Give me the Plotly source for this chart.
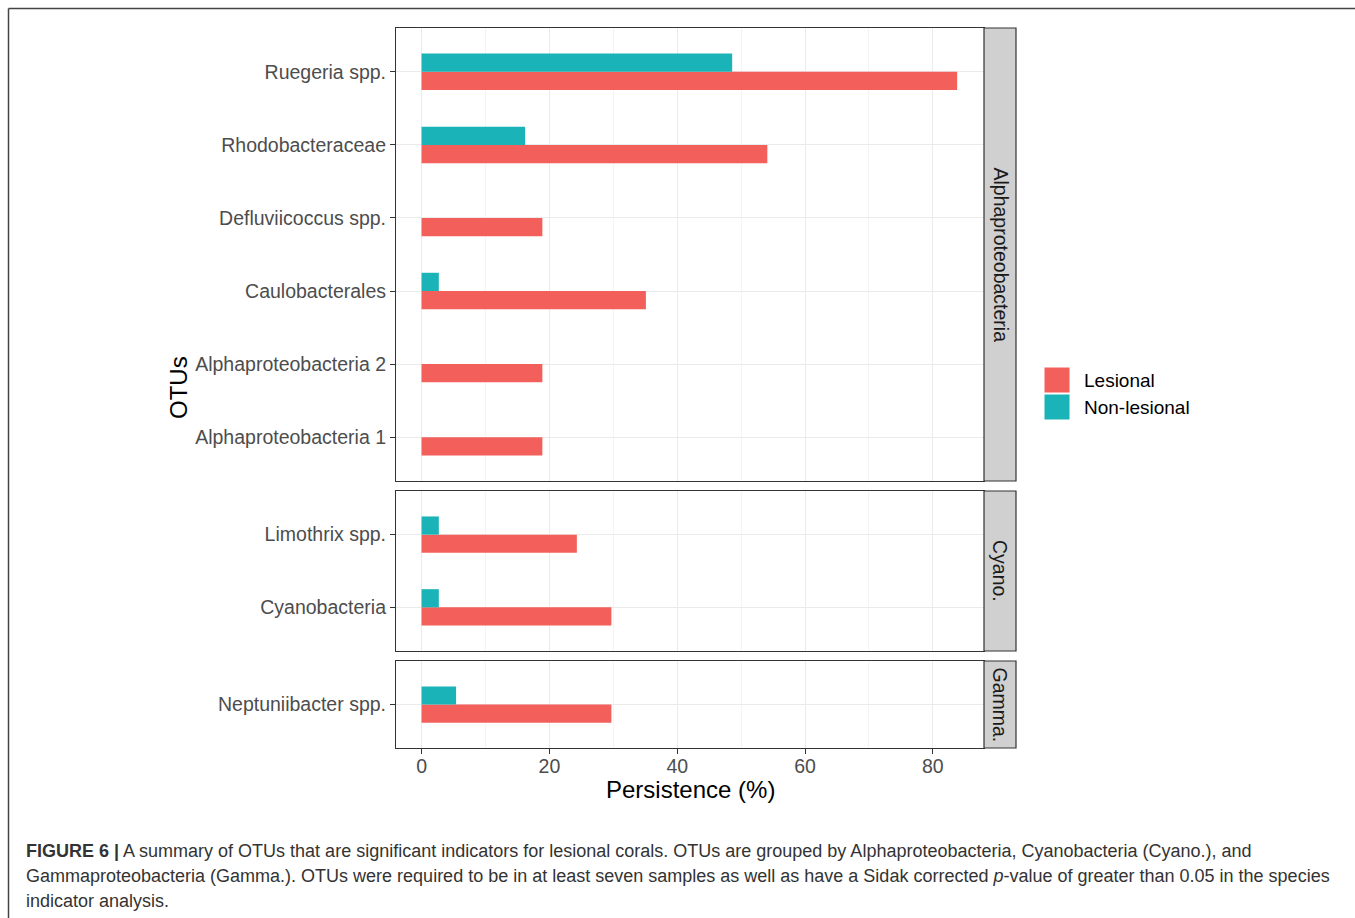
import plotly.graph_objects as go

W, H = 1355, 918

# ---- data -------------------------------------------------------------
alpha_otus = ["Alphaproteobacteria 1", "Alphaproteobacteria 2", "Caulobacterales",
              "Defluviicoccus spp.", "Rhodobacteraceae", "Ruegeria spp."]
alpha_lesional = [18.9, 18.9, 35.1, 18.9, 54.1, 83.8]
alpha_nonlesional = [None, None, 2.7, None, 16.2, 48.6]

cyano_otus = ["Cyanobacteria", "Limothrix spp."]
cyano_lesional = [29.7, 24.3]
cyano_nonlesional = [2.7, 2.7]

gamma_otus = ["Neptuniibacter spp."]
gamma_lesional = [29.7]
gamma_nonlesional = [5.4]

groups = ["Alphaproteobacteria", "Cyano.", "Gamma."]
x_ticks = [0, 20, 40, 60, 80]

# ---- styling ----------------------------------------------------------
RED = "#F35F5A"
TEAL = "#19B3B8"
FONT = "Liberation Sans, Arial, sans-serif"
BORDER = "#333333"
GRID = "#EBEBEB"
GRID_MINOR = "#F4F4F4"
TICK_SIZE = 19.5

# panel pixel boxes (top, bottom) and shared horizontal extent
PX_L, PX_R = 396, 984
panels_px = [(28, 481), (491, 651), (661, 748)]


def ydom(top, bottom):
    return [1 - bottom / H, 1 - top / H]


fig = go.Figure()

panel_data = [
    (alpha_otus, alpha_lesional, alpha_nonlesional),
    (cyano_otus, cyano_lesional, cyano_nonlesional),
    (gamma_otus, gamma_lesional, gamma_nonlesional),
]

for i, (otus, les, non) in enumerate(panel_data):
    sfx = "" if i == 0 else str(i + 1)
    fig.add_trace(go.Bar(y=otus, x=les, orientation="h", name="Lesional",
                         marker=dict(color=RED, line=dict(width=0)),
                         xaxis="x" + sfx, yaxis="y" + sfx, showlegend=False))
    fig.add_trace(go.Bar(y=otus, x=non, orientation="h", name="Non-lesional",
                         marker=dict(color=TEAL, line=dict(width=0)),
                         xaxis="x" + sfx, yaxis="y" + sfx, showlegend=False))

layout = dict(
    width=W, height=H,
    margin=dict(l=0, r=0, t=0, b=0),
    paper_bgcolor="white", plot_bgcolor="white",
    barmode="group", bargap=0.5, bargroupgap=0,
    font=dict(family=FONT, color="#4D4D4D", size=TICK_SIZE),
    showlegend=False,
)

xdom = [PX_L / W, PX_R / W]
for i, ((top, bottom), (otus, _, _)) in enumerate(zip(panels_px, panel_data)):
    sfx = "" if i == 0 else str(i + 1)
    last = i == len(panels_px) - 1
    layout["xaxis" + sfx] = dict(
        domain=xdom, anchor="y" + sfx, range=[-4.0, 88.0],
        tickvals=x_ticks, showticklabels=last,
        ticks="outside" if last else "", ticklen=5, tickcolor=BORDER, tickwidth=1,
        ticklabelstandoff=-5,
        tickfont=dict(size=TICK_SIZE, color="#4D4D4D"),
        showgrid=True, gridcolor=GRID, gridwidth=1, zeroline=False,
        minor=dict(tickvals=[10, 30, 50, 70], showgrid=True,
                   gridcolor=GRID_MINOR, gridwidth=1),
        showline=True, mirror=True, linecolor=BORDER, linewidth=1.2,
    )
    layout["yaxis" + sfx] = dict(
        domain=ydom(top, bottom), anchor="x" + sfx,
        type="category", categoryorder="array", categoryarray=otus,
        range=[-0.6, len(otus) - 0.4],
        ticks="outside", ticklen=5, tickcolor=BORDER, tickwidth=1,
        tickfont=dict(size=TICK_SIZE, color="#4D4D4D"),
        showgrid=True, gridcolor=GRID, gridwidth=1, zeroline=False,
        showline=True, mirror=True, linecolor=BORDER, linewidth=1.2,
    )

fig.update_layout(**layout)

shapes = []
annotations = []

# facet strips on the right
STRIP_L, STRIP_R = 984, 1016
for (top, bottom), label in zip(panels_px, groups):
    shapes.append(dict(type="rect", xref="paper", yref="paper",
                       x0=STRIP_L / W, x1=STRIP_R / W,
                       y0=1 - bottom / H, y1=1 - top / H,
                       fillcolor="#D0D0D0", line=dict(color=BORDER, width=1.2)))
    annotations.append(dict(xref="paper", yref="paper",
                            x=(STRIP_L + STRIP_R) / 2 / W,
                            y=1 - (top + bottom) / 2 / H,
                            xanchor="center", yanchor="middle",
                            text=label, textangle=90, showarrow=False,
                            font=dict(size=TICK_SIZE, color="#1A1A1A")))

# axis titles
annotations.append(dict(xref="paper", yref="paper", x=(PX_L + PX_R) / 2 / W,
                        y=1 - 789 / H, xanchor="center", yanchor="middle",
                        text="Persistence (%)", showarrow=False,
                        font=dict(size=24, color="#000000")))
annotations.append(dict(xref="paper", yref="paper", x=178 / W, y=1 - 388 / H,
                        xanchor="center", yanchor="middle",
                        text="OTUs", textangle=-90, showarrow=False,
                        font=dict(size=24, color="#000000")))

# legend keys
legend_items = [("Lesional", RED, 367), ("Non-lesional", TEAL, 394)]
for name, col, ytop in legend_items:
    shapes.append(dict(type="rect", xref="paper", yref="paper",
                       x0=1044 / W, x1=1070 / W,
                       y0=1 - (ytop + 26) / H, y1=1 - ytop / H,
                       fillcolor=col, line=dict(color="white", width=1)))
    annotations.append(dict(xref="paper", yref="paper", x=1082 / W,
                            y=1 - (ytop + 13) / H, text=name, showarrow=False,
                            xanchor="left", yanchor="middle",
                            font=dict(size=19, color="#000000")))

# outer frame lines of the figure
shapes.append(dict(type="line", xref="paper", yref="paper",
                   x0=8.5 / W, x1=1, y0=1 - 8.5 / H, y1=1 - 8.5 / H,
                   line=dict(color="#444444", width=1.5)))
shapes.append(dict(type="line", xref="paper", yref="paper",
                   x0=8.5 / W, x1=8.5 / W, y0=0, y1=1 - 8.5 / H,
                   line=dict(color="#444444", width=1.5)))

# caption
caption_lines = [
    "<b>FIGURE 6 |</b> A summary of OTUs that are significant indicators for lesional corals. "
    "OTUs are grouped by Alphaproteobacteria, Cyanobacteria (Cyano.), and",
    "Gammaproteobacteria (Gamma.). OTUs were required to be in at least seven samples as well "
    "as have a Sidak corrected <i>p</i>-value of greater than 0.05 in the species",
    "indicator analysis.",
]
for k, line in enumerate(caption_lines):
    annotations.append(dict(xref="paper", yref="paper", x=24 / W,
                            y=1 - (851 + 25 * k) / H, text=line, showarrow=False,
                            xanchor="left", yanchor="middle", align="left",
                            font=dict(size=18, color="#333333")))

fig.update_layout(shapes=shapes, annotations=annotations)
fig.write_html("out.html")
